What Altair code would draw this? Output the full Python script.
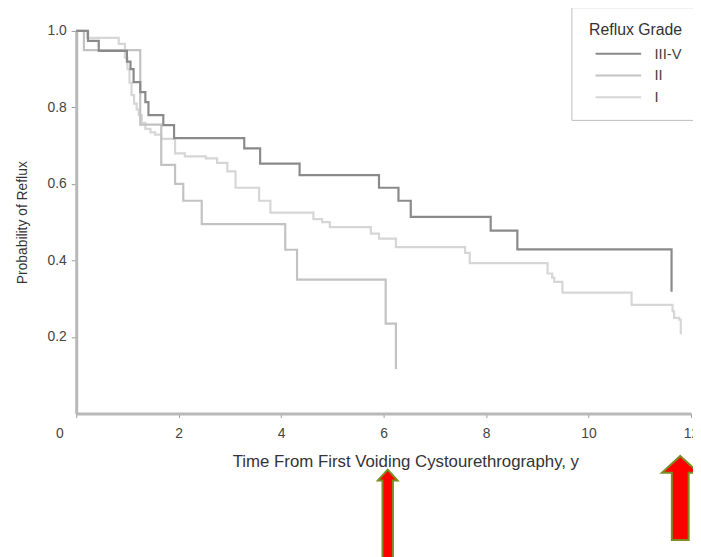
import altair as alt
import pandas as pd

# ---- data (time in years, probability of reflux) ----
grades = ["III-V", "II", "I"]
grade_colors = ["#8a8a8a", "#c2c2c2", "#d6d6d6"]

g35_t = [0, 0.23, 0.44, 0.99, 1.06, 1.12, 1.25, 1.35, 1.41, 1.70, 1.91, 3.28,
         3.59, 4.36, 5.91, 6.29, 6.53, 8.09, 8.61, 11.62]
g35_p = [1.0, 0.974, 0.948, 0.92, 0.90, 0.866, 0.84, 0.814, 0.78, 0.754, 0.72,
         0.693, 0.653, 0.623, 0.59, 0.556, 0.514, 0.478, 0.429, 0.318]

g2_t = [0, 0.15, 1.25, 1.66, 1.93, 2.09, 2.45, 4.08, 4.31, 6.04, 6.24]
g2_p = [1.0, 0.95, 0.755, 0.65, 0.60, 0.556, 0.495, 0.428, 0.35, 0.235, 0.116]

g1_t = [0, 0.21, 0.83, 0.95, 1.00, 1.04, 1.08, 1.13, 1.18, 1.22, 1.28, 1.35,
        1.45, 1.54, 1.66, 1.93, 2.12, 2.53, 2.75, 2.95, 3.11, 3.57, 3.79, 4.63,
        4.80, 4.95, 5.75, 5.91, 6.24, 7.59, 7.68, 9.20, 9.29, 9.33, 9.49, 10.84,
        11.64, 11.67, 11.77, 11.80]
g1_p = [1.0, 0.982, 0.966, 0.93, 0.90, 0.865, 0.832, 0.81, 0.795, 0.78, 0.76,
        0.744, 0.735, 0.729, 0.718, 0.68, 0.672, 0.667, 0.655, 0.633, 0.59,
        0.556, 0.525, 0.508, 0.50, 0.487, 0.47, 0.457, 0.435, 0.42, 0.393,
        0.366, 0.355, 0.344, 0.316, 0.284, 0.267, 0.25, 0.245, 0.207]

x_ticks = [0, 2, 4, 6, 8, 10, 12]
y_ticks = [0.2, 0.4, 0.6, 0.8, 1.0]

# annotation arrows (anchored at their tips, in data units)
arrow_t = [6.08, 11.79]
arrow_tip = [-0.147, -0.111]
arrow_shape = [
    "M0,0L10,11L5.3,11L5.3,110L-5.3,110L-5.3,11L-10,11Z",
    "M0,0L18.5,17L8.5,17L8.5,85L-8.5,85L-8.5,17L-18.5,17Z",
]

# ---- build tables ----
rows = []
for g, ts, ps in [("I", g1_t, g1_p), ("II", g2_t, g2_p), ("III-V", g35_t, g35_p)]:
    for i, (t, p) in enumerate(zip(ts, ps)):
        rows.append({"t": t, "p": p, "grade": g, "idx": i})
curves = pd.DataFrame(rows)

arrows = pd.DataFrame({"t": arrow_t, "tip": arrow_tip, "shape": arrow_shape})

FONT = "Liberation Sans"

x_enc = alt.X(
    "t:Q",
    scale=alt.Scale(domain=[0, 12], nice=False, zero=True),
    axis=alt.Axis(
        values=x_ticks, format="d", grid=False,
        title="Time From First Voiding Cystourethrography, y",
        domainColor="#b8b8b8", domainWidth=3,
        tickColor="#9a9a9a", tickSize=4, tickWidth=1,
        labelFontSize=14, labelColor="#444444", labelPadding=9,
        labelFlush=False,
        labelOffset={"condition": {"test": "datum.value === 0", "value": -17}, "value": 0},
        titleFontSize=17, titleFontWeight="normal", titleColor="#333333",
        titlePadding=14, titleX=333,
    ),
)
y_enc = alt.Y(
    "p:Q",
    scale=alt.Scale(domain=[0, 1], nice=False),
    axis=alt.Axis(
        values=y_ticks, format=".1f", grid=False,
        title="Probability of Reflux",
        domainColor="#b8b8b8", domainWidth=3,
        tickColor="#9a9a9a", tickSize=5, tickWidth=1,
        labelFontSize=14, labelColor="#444444", labelPadding=5,
        labelFlush=False,
        titleFontSize=14, titleFontWeight="normal", titleColor="#333333",
        titlePadding=18,
    ),
)

lines = alt.Chart(curves).mark_line(interpolate="step-after", strokeWidth=2.2).encode(
    x=x_enc,
    y=y_enc,
    color=alt.Color(
        "grade:N",
        scale=alt.Scale(domain=grades, range=grade_colors),
        legend=alt.Legend(
            title="Reflux Grade", titleAnchor="end",
            orient="none", legendX=501, legendY=-24,
            strokeColor="#bdbdbd", fillColor="white", padding=15,
            symbolType="M-5,0H5", symbolSize=85, symbolStrokeWidth=2,
            symbolFillColor="transparent",
            symbolOffset=25, labelOffset=29,
            titleFontSize=16, titleFontWeight="normal", titleColor="#333333",
            titlePadding=8.5, labelFontSize=15, labelColor="#444444",
            rowPadding=6,
        ),
    ),
    order="idx:Q",
)

arrow_layer = alt.Chart(arrows).mark_point(
    filled=True, fill="#ff0000", stroke="#7d8c23", strokeWidth=2,
    size=4, opacity=1, fillOpacity=1, strokeOpacity=1,
).encode(
    x="t:Q",
    y="tip:Q",
    shape=alt.Shape("shape:N", scale=None),
)

chart = (
    alt.layer(lines, arrow_layer)
    .properties(
        width=622, height=387,
        autosize=alt.AutoSizeParams(type="none"),
        padding={"left": 69, "top": 20, "right": 2, "bottom": 142},
    )
    .configure(font=FONT)
    .configure_view(stroke=None)
)

chart.save("out.html", embed_options={"renderer": "svg", "actions": False})
